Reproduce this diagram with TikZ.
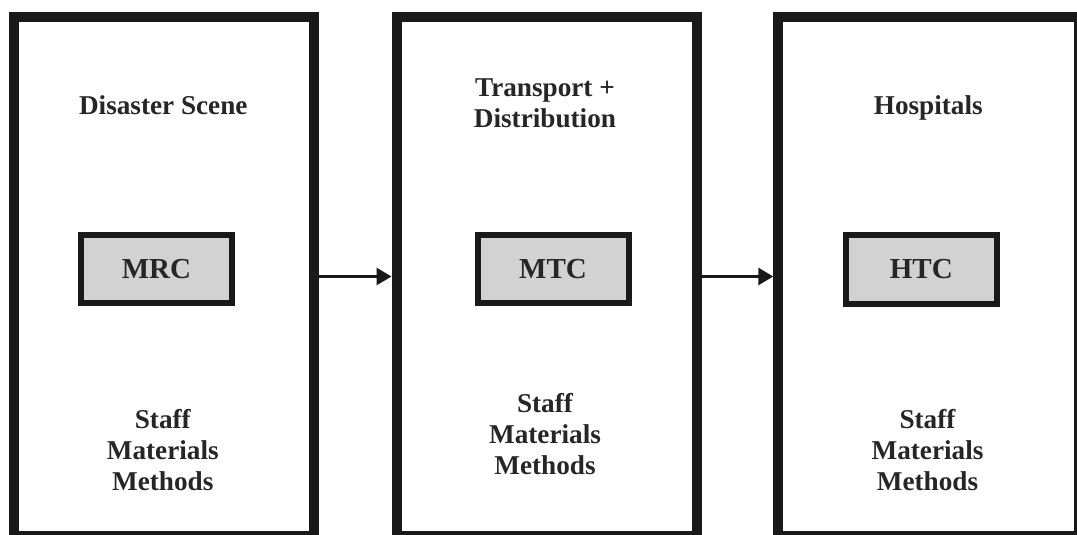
\documentclass[tikz,border=0pt]{standalone}
\usepackage{fontspec}
\setmainfont{Liberation Serif}
\usetikzlibrary{arrows.meta}
\begin{document}
\begin{tikzpicture}[x=0.5pt,y=0.5pt,>={Triangle[length=7.5pt,width=8.5pt]},
	stage/.style={draw=black!90,line width=5pt,minimum width=150.25pt,minimum height=259.5pt,inner sep=0pt},
	unit/.style={draw=black!90,fill=gray!35,line width=3pt,minimum width=75.5pt,minimum height=34.25pt,inner sep=0pt,text=black!85,font=\fontsize{14.5}{16}\selectfont\bfseries},
	heading/.style={align=center,inner sep=0pt,text=black!85,font=\fontsize{13.6}{15.5}\selectfont\bfseries},
	flow/.style={->,draw=black!90,line width=1.5pt}]
	\useasboundingbox (0,0) rectangle (1077,535);
	% the three stages
	\node[stage] (scene) at (163.75,258.5) {};
	\node[stage] (transport) at (546.75,258.5) {};
	\node[stage] (hospital) at (928.5,258.5) {};
	% coordination centres
	\node[unit] (mrc) at (156.5,265.75) {MRC};
	\node[unit] (mtc) at (553,266) {MTC};
	\node[unit] (htc) at (921.3,265.6) {HTC};
	% titles
	\node[heading,anchor=base] (scenetitle) at (163.3,420) {Disaster Scene};
	\node[heading,anchor=north] (transporttitle) at (545,457) {Transport +\\Distribution};
	\node[heading,anchor=base] (hospitaltitle) at (928.3,420) {Hospitals};
	% resources
	\node[heading,anchor=north] (sceneres) at (162.8,126) {Staff\\Materials\\Methods};
	\node[heading,anchor=north] (transportres) at (545,142) {Staff\\Materials\\Methods};
	\node[heading,anchor=north] (hospitalres) at (927.5,126) {Staff\\Materials\\Methods};
	% flow between stages
	\draw[flow] (scene.east) -- (transport.west);
	\draw[flow] (transport.east) -- (hospital.west);
\end{tikzpicture}
\end{document}
